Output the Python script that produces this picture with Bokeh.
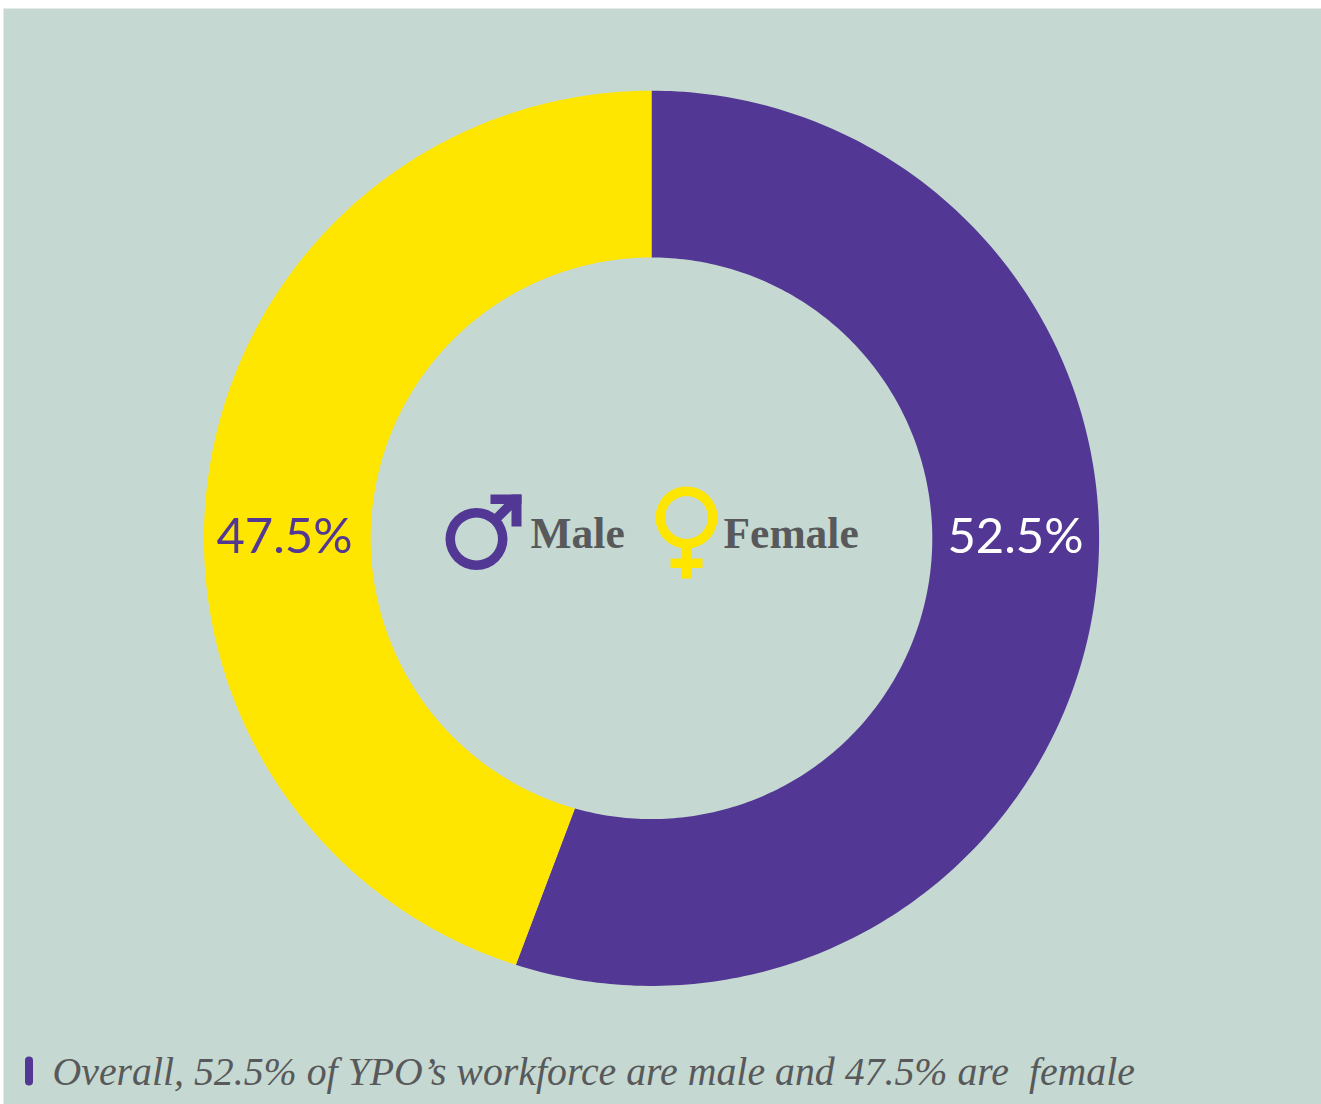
from math import pi, sin, cos
from bokeh.plotting import figure
from bokeh.models import Range1d, ColumnDataSource
from bokeh.core.properties import value
from bokeh.embed import file_html
from bokeh.resources import INLINE

# data
categories = ["Male", "Female"]
labels = ["52.5%", "47.5%"]
male_share_at_outer_edge = 54.9   # share of the ring as drawn in the picture
male_share_at_inner_edge = 54.4
slice_colors = ["#523894", "#FFE600"]
caption = "Overall, 52.5% of YPO\u2019s workforce are male and 47.5% are \u00a0female"

BG = "#C5D8D1"
TEXT = "#58595B"
PURPLE, YELLOW = slice_colors
W, H = 1318, 1096
X0, Y0 = 3, 8

p = figure(width=W, height=H, output_backend="svg", toolbar_location=None,
           x_range=Range1d(X0, X0 + W), y_range=Range1d(-(Y0 + H), -Y0),
           background_fill_color=BG, border_fill_color=BG, outline_line_color=None,
           min_border=0)
p.axis.visible = False
p.grid.visible = False
p.styles = {"position": "absolute", "left": f"{X0}px", "top": f"{Y0}px"}

def Y(v):
    return -v

cx, cy, ro, ri = 651.0, 537.8, 447.6, 280.8

def arc(radius, share_from, share_to, n=240):
    xs, ys = [], []
    for i in range(n + 1):
        t = 2 * pi * (share_from + (share_to - share_from) * i / n) / 100
        xs.append(cx + radius * sin(t))
        ys.append(Y(cy) + radius * cos(t))
    return xs, ys

# ring slices, share 0 at the top, going clockwise
ox, oy = arc(ro, 0, male_share_at_outer_edge)
ix, iy = arc(ri, male_share_at_inner_edge, 0)
male_x, male_y = ox + ix, oy + iy
ox, oy = arc(ro, male_share_at_outer_edge, 100)
ix, iy = arc(ri, 100, male_share_at_inner_edge)
female_x, female_y = ox + ix, oy + iy
p.patches([male_x, female_x], [male_y, female_y], fill_color=slice_colors, line_color=None)

# ring value labels
p.text([1015, 284], [Y(533), Y(533)], text=labels, text_color=["#FFFFFF", PURPLE],
       text_font=value("Lato"), text_font_size="49px", text_align="center", text_baseline="middle")

# gender icons
p.annulus([476], [Y(538.5)], inner_radius=21.5, outer_radius=31, color=PURPLE, line_color=None)
p.line([497, 516], [Y(517), Y(498)], line_color=PURPLE, line_width=9.5)
p.quad(left=[490], right=[521], top=[Y(494)], bottom=[Y(503.5)], color=PURPLE, line_color=None)
p.quad(left=[511], right=[521], top=[Y(494)], bottom=[Y(526)], color=PURPLE, line_color=None)

p.annulus([686], [Y(517)], inner_radius=21.5, outer_radius=31, color=YELLOW, line_color=None)
p.quad(left=[681], right=[691], top=[Y(547)], bottom=[Y(578)], color=YELLOW, line_color=None)
p.quad(left=[670], right=[702], top=[Y(558)], bottom=[Y(567.5)], color=YELLOW, line_color=None)

p.text([530, 723], [Y(532), Y(532)], text=categories, text_color=TEXT,
       text_font=value("Liberation Serif"), text_font_style="bold", text_font_size="43.5px",
       text_align="left", text_baseline="middle")

# caption
p.line([28.5, 28.5], [Y(1060), Y(1081)], line_color=PURPLE, line_width=8, line_cap="round")
p.text([52], [Y(1071)], text=[caption], text_color=TEXT, text_font=value("Liberation Serif"),
       text_font_style="italic", text_font_size="39.8px", text_align="left", text_baseline="middle")

open("out.html", "w").write(file_html(p, INLINE))
